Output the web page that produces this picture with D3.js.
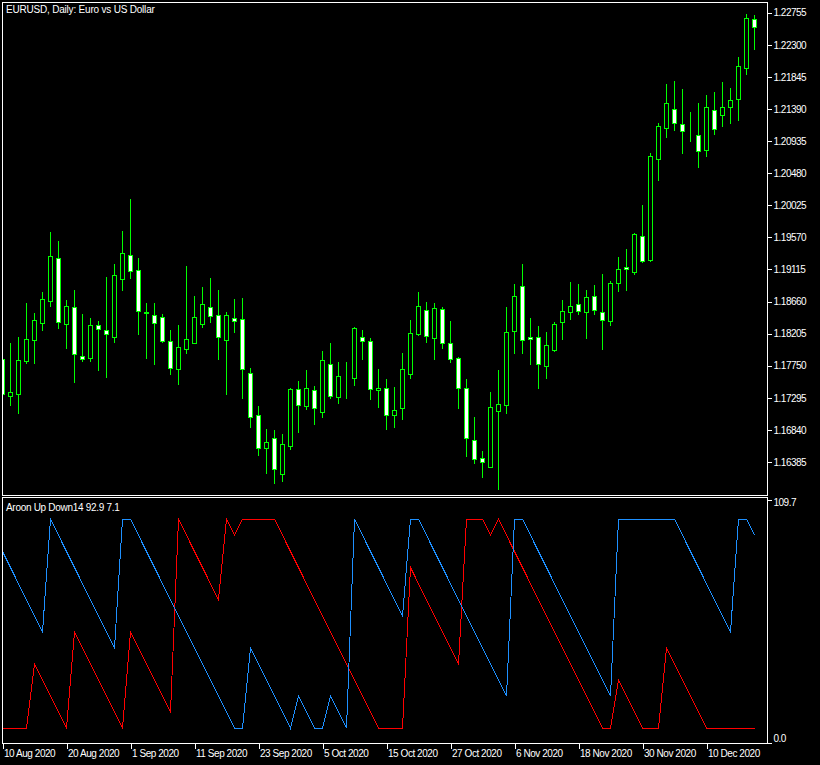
<!DOCTYPE html>
<html>
<head>
<meta charset="utf-8">
<script src="https://cdn.jsdelivr.net/npm/d3@7"></script>
<style>
  html, body { margin: 0; padding: 0; background: #000; }
  svg { display: block; }
  text { font-family: "Liberation Sans", Arial, sans-serif; font-size: 10px; fill: #fff; }
</style>
</head>
<body>
<svg id="chart" width="820" height="765"></svg>
<script>
// ---------------- DATA ----------------
const dates = [
  "2020-08-10","2020-08-11","2020-08-12","2020-08-13","2020-08-14","2020-08-17","2020-08-18","2020-08-19","2020-08-20","2020-08-21",
  "2020-08-24","2020-08-25","2020-08-26","2020-08-27","2020-08-28","2020-08-31","2020-09-01","2020-09-02","2020-09-03","2020-09-04",
  "2020-09-07","2020-09-08","2020-09-09","2020-09-10","2020-09-11","2020-09-14","2020-09-15","2020-09-16","2020-09-17","2020-09-18",
  "2020-09-21","2020-09-22","2020-09-23","2020-09-24","2020-09-25","2020-09-28","2020-09-29","2020-09-30","2020-10-01","2020-10-02",
  "2020-10-05","2020-10-06","2020-10-07","2020-10-08","2020-10-09","2020-10-12","2020-10-13","2020-10-14","2020-10-15","2020-10-16",
  "2020-10-19","2020-10-20","2020-10-21","2020-10-22","2020-10-23","2020-10-26","2020-10-27","2020-10-28","2020-10-29","2020-10-30",
  "2020-11-02","2020-11-03","2020-11-04","2020-11-05","2020-11-06","2020-11-09","2020-11-10","2020-11-11","2020-11-12","2020-11-13",
  "2020-11-16","2020-11-17","2020-11-18","2020-11-19","2020-11-20","2020-11-23","2020-11-24","2020-11-25","2020-11-26","2020-11-27",
  "2020-11-30","2020-12-01","2020-12-02","2020-12-03","2020-12-04","2020-12-07","2020-12-08","2020-12-09","2020-12-10","2020-12-11",
  "2020-12-14","2020-12-15","2020-12-16","2020-12-17","2020-12-18"
];

const opens = [
  1.17840,1.17324,1.17352,1.17820,1.18118,1.18359,1.18671,1.19272,1.18345,1.18577,
  1.17883,1.17862,1.18322,1.18251,1.18159,1.18983,1.19315,1.19102,1.18511,1.18464,
  1.18436,1.18095,1.17707,1.17981,1.18076,1.18336,1.18577,1.18464,1.18109,1.18422,
  1.18407,1.17642,1.17047,1.16579,1.16721,1.16210,1.16608,1.17414,1.17175,1.17401,
  1.17090,1.17769,1.17302,1.17588,1.17571,1.18152,1.18095,1.17401,1.17428,1.17047,
  1.17146,1.17627,1.18195,1.18535,1.18138,1.18549,1.18067,1.17854,1.17428,1.16692,
  1.16437,1.16311,1.17104,1.17197,1.18237,1.18875,1.18152,1.18152,1.17740,1.17968,
  1.18365,1.18507,1.18620,1.18507,1.18733,1.18507,1.18379,1.18918,1.19144,1.19082,
  1.19584,1.19253,1.20685,1.21124,1.21385,1.21173,1.21054,1.21017,1.20812,1.21379,
  1.21300,1.21413,1.21527,1.21967,1.22661
];
const highs = [
  1.17873,1.18067,1.18152,1.18634,1.18492,1.18794,1.19645,1.19518,1.18681,1.18823,
  1.18482,1.18426,1.18379,1.19007,1.19191,1.19659,1.20113,1.19276,1.18638,1.18638,
  1.18482,1.18256,1.18327,1.19163,1.18738,1.18865,1.18993,1.18823,1.18511,1.18695,
  1.18709,1.17717,1.17179,1.16853,1.16839,1.16782,1.17428,1.17532,1.17688,1.17463,
  1.17958,1.18071,1.17802,1.17802,1.18298,1.18256,1.18142,1.17703,1.17561,1.17448,
  1.17930,1.18393,1.18794,1.18653,1.18638,1.18582,1.18383,1.17873,1.17564,1.17023,
  1.16540,1.17377,1.17688,1.18577,1.18908,1.19191,1.18422,1.18308,1.18223,1.18365,
  1.18677,1.18936,1.18904,1.18819,1.18889,1.19049,1.18946,1.19286,1.19400,1.19627,
  1.20028,1.20762,1.21186,1.21744,1.21786,1.21673,1.21347,1.21474,1.21588,1.21631,
  1.21772,1.21687,1.22127,1.22736,1.22722
];
const lows = [
  1.17306,1.17197,1.17084,1.17783,1.17792,1.18260,1.18600,1.18289,1.18005,1.17523,
  1.17820,1.17820,1.17688,1.17593,1.18090,1.18827,1.18998,1.18203,1.17862,1.17777,
  1.18085,1.17632,1.17490,1.17934,1.18072,1.18302,1.18373,1.17848,1.17352,1.18231,
  1.17296,1.16885,1.16487,1.16229,1.16087,1.16116,1.16574,1.16814,1.17141,1.16928,
  1.17023,1.17296,1.17226,1.17296,1.17481,1.17848,1.17282,1.17169,1.16857,1.16886,
  1.16999,1.17580,1.18185,1.18090,1.17848,1.18005,1.17806,1.17155,1.16473,1.16375,
  1.16168,1.16307,1.16002,1.17084,1.17934,1.17934,1.17777,1.17438,1.17570,1.17962,
  1.18124,1.18407,1.18478,1.18147,1.18478,1.17981,1.18322,1.18804,1.18827,1.19053,
  1.19224,1.19239,1.20383,1.20986,1.21091,1.20766,1.20936,1.20562,1.20723,1.21034,
  1.21154,1.21196,1.21238,1.21890,1.22245
];
const closes = [
  1.17345,1.17372,1.17826,1.18124,1.18393,1.18691,1.19301,1.18365,1.18592,1.17919,
  1.17848,1.18322,1.18274,1.18195,1.19031,1.19343,1.19097,1.18521,1.18496,1.18351,
  1.18095,1.17713,1.18010,1.18124,1.18436,1.18620,1.18450,1.18152,1.18464,1.18379,
  1.17698,1.17019,1.16579,1.16664,1.16281,1.16636,1.17414,1.17189,1.17439,1.17146,
  1.17826,1.17320,1.17599,1.17583,1.18280,1.18095,1.17414,1.17428,1.17047,1.17118,
  1.17698,1.18209,1.18592,1.18167,1.18563,1.18067,1.17840,1.17428,1.16721,1.16423,
  1.16380,1.17160,1.17203,1.18223,1.18733,1.18109,1.18124,1.17769,1.18038,1.18336,
  1.18521,1.18592,1.18521,1.18719,1.18535,1.18393,1.18918,1.19116,1.19116,1.19617,
  1.19239,1.20719,1.21144,1.21470,1.21195,1.21082,1.21050,1.20798,1.21413,1.21100,
  1.21413,1.21521,1.21995,1.22676,1.22548
];

const aroonUp = [
  85.7,78.6,71.4,64.3,57.1,50,100,92.9,85.7,78.6,
  71.4,64.3,57.1,50,42.9,100,100,92.9,85.7,78.6,
  71.4,64.3,57.1,50,42.9,35.7,28.6,21.4,14.3,7.1,
  7.1,42.9,35.7,28.6,21.4,14.3,7.1,21.4,14.3,7.1,
  7.1,21.4,14.3,7.1,100,92.9,85.7,78.6,71.4,64.3,
  57.1,100,100,92.9,85.7,78.6,71.4,64.3,57.1,50,
  42.9,35.7,28.6,21.4,100,100,92.9,85.7,78.6,71.4,
  64.3,57.1,50,42.9,35.7,28.6,21.4,100,100,100,
  100,100,100,100,100,92.9,85.7,78.6,71.4,64.3,
  57.1,50,100,100,92.9
];
const aroonDown = [
  7.1,7.1,7.1,7.1,35.7,28.6,21.4,14.3,7.1,50,
  42.9,35.7,28.6,21.4,14.3,7.1,50,42.9,35.7,28.6,
  21.4,14.3,100,92.9,85.7,78.6,71.4,64.3,100,92.9,
  100,100,100,100,100,92.9,85.7,78.6,71.4,64.3,
  57.1,50,42.9,35.7,28.6,21.4,14.3,7.1,7.1,7.1,
  7.1,78.6,71.4,64.3,57.1,50,42.9,35.7,100,100,
  100,92.9,100,92.9,85.7,78.6,71.4,64.3,57.1,50,
  42.9,35.7,28.6,21.4,14.3,7.1,7.1,28.6,21.4,14.3,
  7.1,7.1,7.1,42.9,35.7,28.6,21.4,14.3,7.1,7.1,
  7.1,7.1,7.1,7.1,7.1
];

const priceTicks = [1.22755,1.22300,1.21845,1.21390,1.20935,1.20480,1.20025,1.19570,1.19115,1.18660,1.18205,1.17750,1.17295,1.16840,1.16385];
const dateTickDates = ["2020-08-10","2020-08-20","2020-09-01","2020-09-11","2020-09-23","2020-10-05","2020-10-15","2020-10-27","2020-11-06","2020-11-18","2020-11-30","2020-12-10"];
const dateTickLabels = ["10 Aug 2020","20 Aug 2020","1 Sep 2020","11 Sep 2020","23 Sep 2020","5 Oct 2020","15 Oct 2020","27 Oct 2020","6 Nov 2020","18 Nov 2020","30 Nov 2020","10 Dec 2020"];
const aroonTicks = [0, 109.7];
const aroonTickLabels = ["0.0", "109.7"];

const titleText = "EURUSD, Daily:  Euro vs US Dollar";
const indicatorText = "Aroon Up Down14 92.9 7.1";

// ---------------- CHART ----------------
const svg = d3.select("#chart");
svg.append("rect").attr("width", 820).attr("height", 765).attr("fill", "#000");

const GREEN = "#00ff00", WHITE = "#ffffff", BLUE = "#1e90ff", RED = "#ff0000";

const x = d3.scalePoint().domain(dates).range([2.5, 754.5]);
const y = d3.scaleLinear().domain([1.15931, 1.22907]).range([494, 2]);
const ya = d3.scaleLinear().domain([0, 109.7]).range([744.3, 497.5]);

const defs = svg.append("defs");
defs.append("clipPath").attr("id", "clipMain").append("rect").attr("x", 3).attr("y", 3).attr("width", 764).attr("height", 492);
defs.append("clipPath").attr("id", "clipInd").append("rect").attr("x", 3).attr("y", 498).attr("width", 764).attr("height", 245);

const candles = dates.map((d, i) => ({d, o: opens[i], h: highs[i], l: lows[i], c: closes[i]}));

const gC = svg.append("g").attr("clip-path", "url(#clipMain)");
// wicks
gC.selectAll("line.wick").data(candles).join("line")
  .attr("class", "wick")
  .attr("x1", d => x(d.d)).attr("x2", d => x(d.d))
  .attr("y1", d => Math.round(y(d.h))).attr("y2", d => Math.round(y(d.l)) + 1)
  .attr("stroke", GREEN).attr("stroke-width", 1).attr("shape-rendering", "crispEdges");
// bodies
gC.selectAll("rect.body").data(candles).join("rect")
  .attr("class", "body")
  .attr("x", d => x(d.d) - 2)
  .attr("width", 4)
  .attr("y", d => Math.round(y(Math.max(d.o, d.c))) + 0.5)
  .attr("height", d => Math.max(0, Math.round(y(Math.min(d.o, d.c))) - Math.round(y(Math.max(d.o, d.c)))))
  .attr("fill", d => d.c < d.o ? WHITE : "#000")
  .attr("stroke", GREEN).attr("stroke-width", 1).attr("shape-rendering", "crispEdges");

// Aroon lines
const gI = svg.append("g").attr("clip-path", "url(#clipInd)");
const lineUp = d3.line().x((v, i) => x(dates[i])).y(v => ya(v));
gI.append("path").datum(aroonDown).attr("d", lineUp)
  .attr("fill", "none").attr("stroke", RED).attr("stroke-width", 1).attr("shape-rendering", "crispEdges");
gI.append("path").datum(aroonUp).attr("d", lineUp)
  .attr("fill", "none").attr("stroke", BLUE).attr("stroke-width", 1).attr("shape-rendering", "crispEdges");

// frames
svg.append("rect").attr("x", 2.5).attr("y", 2.5).attr("width", 765).attr("height", 492.5)
  .attr("fill", "none").attr("stroke", WHITE).attr("shape-rendering", "crispEdges");
svg.append("rect").attr("x", 2.5).attr("y", 497.5).attr("width", 765).attr("height", 246)
  .attr("fill", "none").attr("stroke", WHITE).attr("shape-rendering", "crispEdges");

// price axis
const pAxis = svg.append("g").attr("transform", "translate(767.5,0)")
  .call(d3.axisRight(y).tickValues(priceTicks).tickSize(4).tickPadding(2).tickFormat(d3.format(".5f")));
pAxis.select(".domain").remove();
pAxis.selectAll("line").attr("stroke", WHITE).attr("shape-rendering", "crispEdges");
pAxis.selectAll("text").attr("fill", WHITE).attr("font-family", null).attr("font-size", null)
  .style("letter-spacing", "-0.5px");

// aroon axis
const aAxis = svg.append("g").attr("transform", "translate(767.5,0)")
  .call(d3.axisRight(ya).tickValues(aroonTicks).tickSize(4).tickPadding(2).tickFormat((d, i) => aroonTickLabels[i]));
aAxis.select(".domain").remove();
aAxis.selectAll("line").attr("stroke", WHITE).attr("shape-rendering", "crispEdges");
aAxis.selectAll(".tick").each(function(d) {
  const g = d3.select(this);
  if (d === 0) {
    g.attr("transform", "translate(0,743.5)");
    g.select("text").attr("dy", "-2px");
  } else {
    g.attr("transform", "translate(0,500)");
    g.select("text").attr("dy", "6px");
  }
});
aAxis.selectAll("text").attr("fill", WHITE).attr("font-family", null).attr("font-size", null)
  .style("letter-spacing", "-0.5px");

// date axis
const dAxis = svg.append("g").attr("transform", "translate(0,743.5)")
  .call(d3.axisBottom(x).tickValues(dateTickDates).tickSize(5).tickFormat((d, i) => dateTickLabels[i]));
dAxis.select(".domain").remove();
dAxis.selectAll("line").attr("stroke", WHITE).attr("shape-rendering", "crispEdges");
dAxis.selectAll("text").attr("fill", WHITE).attr("font-family", null).attr("font-size", null)
  .attr("text-anchor", "start").attr("x", 1).attr("y", 6).attr("dy", "0.71em")
  .style("letter-spacing", "-0.45px");

// titles
svg.append("text").attr("x", 6).attr("y", 13.3).style("letter-spacing", "-0.2px").text(titleText);
svg.append("text").attr("x", 6).attr("y", 510.5).style("letter-spacing", "-0.3px").text(indicatorText);
</script>
</body>
</html>
